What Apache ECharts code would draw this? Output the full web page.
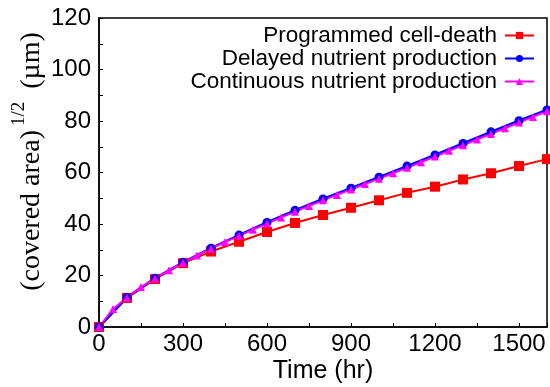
<!DOCTYPE html>
<html>
<head>
<meta charset="utf-8">
<script src="https://cdn.jsdelivr.net/npm/echarts@6/dist/echarts.min.js"></script>
<style>
  html, body { margin: 0; padding: 0; background: #fff; }
  #chart { width: 550px; height: 387px; }
</style>
</head>
<body>
<div id="chart"></div>
<script>
// times (hr) for the square / circle series
const times100 = [0, 100, 200, 300, 400, 500, 600, 700, 800, 900, 1000, 1100, 1200, 1300, 1400, 1500, 1600];
// times (hr) for the triangle series
const times50 = [0, 50, 100, 150, 200, 250, 300, 350, 400, 450, 500, 550, 600, 650, 700, 750, 800,
  850, 900, 950, 1000, 1050, 1100, 1150, 1200, 1250, 1300, 1350, 1400, 1450, 1500, 1550, 1600];

const programmedDeath = [0, 11.3, 18.6, 24.8, 29.3, 33.1, 36.9, 40.4, 43.5, 46.3, 49.2, 52.1, 54.5, 57.3, 59.7, 62.5, 65.2];
const delayedNutrient = [0, 11.5, 18.9, 25.1, 30.6, 35.7, 40.6, 45.3, 49.7, 53.9, 58.2, 62.5, 66.8, 71.3, 75.8, 80.1, 84.3];
const continuousNutrient = [0, 7.0, 11.4, 15.5, 18.8, 22.0, 25.0, 27.8, 30.4, 33.0, 35.4, 37.8, 40.2, 42.5, 44.8, 47.0, 49.2,
  51.3, 53.4, 55.5, 57.6, 59.7, 61.8, 64.0, 66.2, 68.4, 70.6, 72.8, 75.0, 77.2, 79.4, 81.6, 83.8];

const seriesNames = ['Programmed cell-death', 'Delayed nutrient production', 'Continuous nutrient production'];

const pairs = (xs, ys) => xs.map((x, i) => [x, ys[i]]);

const chart = echarts.init(document.getElementById('chart'));

const option = {
  animation: false,
  grid: {
    left: 99,
    right: 3,
    top: 18,
    bottom: 60,
    outerBoundsMode: 'none',
    show: true,
    borderColor: '#000',
    borderWidth: 1.5,
    backgroundColor: 'transparent'
  },
  legend: {
    orient: 'vertical',
    right: 10,
    top: 19,
    align: 'right',
    itemWidth: 29,
    itemHeight: 9,
    itemGap: 0,
    data: seriesNames,
    textStyle: {
      fontFamily: 'Liberation Sans',
      fontSize: 22.5,
      lineHeight: 22,
      padding: [0, 3, 0, 0],
      color: '#000'
    }
  },
  xAxis: {
    type: 'value',
    min: 0,
    max: 1600,
    interval: 300,
    name: 'Time (hr)',
    nameLocation: 'middle',
    nameGap: 32,
    nameMoveOverlap: false,
    nameTextStyle: { fontFamily: 'Liberation Sans', fontSize: 25, color: '#000' },
    axisLine: { lineStyle: { color: '#000', width: 1.5 } },
    axisTick: { inside: true, length: 4, lineStyle: { color: '#000' } },
    minorTick: { show: true, splitNumber: 2, length: 4, lineStyle: { color: '#000' } },
    splitLine: { show: false },
    axisLabel: {
      showMaxLabel: false,
      margin: 5,
      fontFamily: 'Liberation Sans',
      fontSize: 24,
      color: '#000',
      formatter: v => String(v)
    }
  },
  yAxis: {
    type: 'value',
    min: 0,
    max: 120,
    interval: 20,
    name: '{t|(covered area)}{s|1/2}{t| (µm)}',
    nameLocation: 'middle',
    nameGap: 53,
    nameRotate: 90,
    nameMoveOverlap: false,
    nameTextStyle: {
      color: '#000',
      padding: [0, 0, 0, 22],
      rich: {
        t: { fontFamily: 'Liberation Serif', fontSize: 28, color: '#000', lineHeight: 36, verticalAlign: 'bottom' },
        s: { fontFamily: 'Liberation Serif', fontSize: 19, color: '#000', verticalAlign: 'top', padding: [0, 6, 0, 4] }
      }
    },
    axisLine: { lineStyle: { color: '#000', width: 1.5 } },
    axisTick: { inside: true, length: 4, lineStyle: { color: '#000' } },
    minorTick: { show: true, splitNumber: 2, length: 4, lineStyle: { color: '#000' } },
    splitLine: { show: false },
    axisLabel: {
      margin: 8,
      fontFamily: 'Liberation Sans',
      fontSize: 24,
      color: '#000'
    }
  },
  series: [
    {
      name: seriesNames[0],
      type: 'line',
      data: pairs(times100, programmedDeath),
      symbol: 'rect',
      symbolSize: 10,
      color: '#ff0000',
      lineStyle: { color: '#ff0000', width: 2 },
      itemStyle: { color: '#ff0000' }
    },
    {
      name: seriesNames[1],
      type: 'line',
      data: pairs(times100, delayedNutrient),
      symbol: 'circle',
      symbolSize: 9,
      color: '#0000ff',
      lineStyle: { color: '#0000ff', width: 2.5 },
      itemStyle: { color: '#0000ff' }
    },
    {
      name: seriesNames[2],
      type: 'line',
      data: pairs(times50, continuousNutrient),
      symbol: 'triangle',
      symbolSize: 8,
      color: '#ff00ff',
      lineStyle: { color: '#ff00ff', width: 2 },
      itemStyle: { color: '#ff00ff' }
    }
  ]
};

chart.setOption(option);
</script>
</body>
</html>
